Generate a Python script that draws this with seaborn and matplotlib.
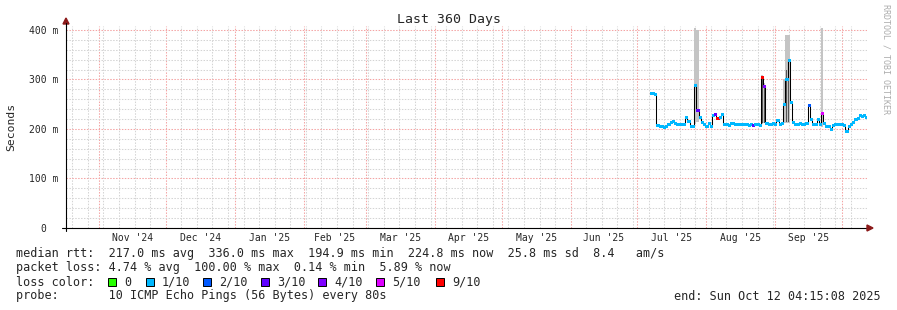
import numpy as np
import pandas as pd
import matplotlib
matplotlib.use("Agg")
import matplotlib.pyplot as plt
import matplotlib.dates as mdates
from matplotlib.ticker import MultipleLocator, FuncFormatter, NullFormatter
from matplotlib.patches import Rectangle, Polygon
from matplotlib.lines import Line2D
import seaborn as sns

# ---------------- data ----------------
first_day = "2025-07-07"
median_ms = [
    272, 272, 270,
    208, 207, 207, 205, 206,
    210, 215, 216, 213, 211, 211, 210, 211,
    225, 216, 207, 206,
    289, 238, 224, 215, 210, 207, 212, 207,
    228, 230, 222, 224, 230,
    210, 210, 209, 212, 213, 210, 210, 211, 210, 210, 210, 209, 210, 208, 210, 210, 209,
    305, 287,
    212, 211, 211, 212, 211, 218, 211, 212,
    250, 300, 340, 255, 215,
    211, 211, 212, 210, 211, 213,
    248, 220, 211, 210, 220, 211, 232,
    212, 207, 206, 200, 209,
    210, 210, 210, 210, 208, 196, 206, 210, 215, 221, 222, 228, 226, 228, 225,
]
# loss level exceptions (default level 1 = 1/10)
loss_days = ["2025-07-28", "2025-08-05", "2025-08-06", "2025-08-22",
             "2025-08-26", "2025-08-27", "2025-09-16", "2025-09-22"]
loss_levels = [3, 3, 6, 3, 6, 4, 2, 5]

# smoke (ping spread) on spike days
smoke_days = ["2025-07-27", "2025-07-28", "2025-08-26", "2025-08-27",
              "2025-09-05", "2025-09-06", "2025-09-07", "2025-09-22"]
smoke_lo = [210, 215, 210, 212, 212, 212, 212, 205]
smoke_hi = [403, 400, 310, 292, 300, 390, 390, 403]
dark_days = ["2025-08-26", "2025-08-27", "2025-09-06", "2025-09-07"]
dark_lo = [212, 212, 215, 215]
dark_hi = [300, 285, 320, 330]

loss_labels = ["0", "1/10", "2/10", "3/10", "4/10", "5/10", "9/10"]
loss_colors = ["#26ff00", "#00b8ff", "#0059ff", "#5e00ff", "#7e00ff", "#dd00ff", "#ff0000"]

month_labels_start = "2024-11-01"
y_ticks = [0, 100, 200, 300, 400]

title = "Last 360 Days"
row1 = "median rtt:  217.0 ms avg  336.0 ms max  194.9 ms min  224.8 ms now  25.8 ms sd  8.4   am/s"
row2 = "packet loss: 4.74 % avg  100.00 % max  0.14 % min  5.89 % now"
row3 = "loss color:"
row4 = "probe:       10 ICMP Echo Pings (56 Bytes) every 80s"
end_text = "end: Sun Oct 12 04:15:08 2025"

# ---------------- build ----------------
dates = pd.date_range(first_day, periods=len(median_ms), freq="D")
level = pd.Series(1, index=dates)
for d, l in zip(loss_days, loss_levels):
    level[pd.Timestamp(d)] = l
seg_colors = [loss_colors[l] for l in level.values]

sns.set_theme(style="white")
plt.rcParams["font.family"] = ["DejaVu Sans Mono", "DejaVu Sans"]

W, H = 897, 310
L, R, T, B = 66, 867, 26, 228
fig = plt.figure(figsize=(W / 100, H / 100), dpi=100)
fig.patch.set_facecolor("white")
ax = fig.add_axes([L / W, 1 - B / H, (R - L) / W, (B - T) / H])
ax.set_facecolor("white")

t_end = pd.Timestamp("2025-10-12 04:15:08")
t_start = t_end - pd.Timedelta(days=360)

half = pd.Timedelta(hours=12)
df = pd.DataFrame({"t": dates - half, "median": median_ms})

# smoke
sd = pd.to_datetime(smoke_days)
ax.bar(mdates.date2num(sd), np.array(smoke_hi) - np.array(smoke_lo), bottom=smoke_lo,
       width=1.0, color="#c4c4c4", linewidth=0, zorder=2)
dd = pd.to_datetime(dark_days)
ax.bar(mdates.date2num(dd), np.array(dark_hi) - np.array(dark_lo), bottom=dark_lo,
       width=0.6, color="#555555", linewidth=0, zorder=2.5)

# median: black step line + loss-coloured horizontal segments
sns.lineplot(data=df, x="t", y="median", drawstyle="steps-post", color="black",
             linewidth=0.75, estimator=None, ax=ax, zorder=3)
ax.hlines(median_ms, mdates.date2num(dates - half), mdates.date2num(dates + half),
          colors=seg_colors, linewidth=2.0, zorder=4, antialiased=False)

ax.set_xlim(t_start, t_end)
ax.set_ylim(0, 408)
ax.set_xlabel("")
ax.set_ylabel("")

# grid
ax.xaxis.set_major_locator(mdates.MonthLocator())
ax.xaxis.set_minor_locator(mdates.WeekdayLocator(byweekday=mdates.SU))
ax.xaxis.set_major_formatter(NullFormatter())
ax.yaxis.set_major_locator(MultipleLocator(100))
ax.yaxis.set_minor_locator(MultipleLocator(20))
ax.set_yticks(y_ticks)
ax.yaxis.set_major_formatter(FuncFormatter(lambda v, p: "0  " if v == 0 else f"{int(v)} m"))
ax.set_axisbelow(True)
ax.grid(which="minor", color="#d4d4d4", linestyle=(0, (1.4, 1.4)), linewidth=0.75)
ax.grid(which="major", color="#f4a4a4", linestyle=(0, (1.4, 1.4)), linewidth=0.75)
ax.tick_params(axis="both", which="major", length=2.5, width=0.7, color="black",
               direction="out", labelsize=7, pad=3)
ax.tick_params(axis="both", which="minor", length=1.5, width=0.7, color="black", direction="out")

for s in ["top", "right"]:
    ax.spines[s].set_visible(False)
for s in ["left", "bottom"]:
    ax.spines[s].set_color("black")
    ax.spines[s].set_linewidth(0.8)

# month labels centred mid-month
months = pd.date_range(month_labels_start, "2025-10-01", freq="MS")
for m0, m1 in zip(months[:-1], months[1:]):
    mid = m0 + (m1 - m0) / 2
    ax.text(mdates.date2num(mid), -10 / (B - T), m0.strftime("%b '%y"),
            transform=ax.get_xaxis_transform(), ha="center", va="center", fontsize=7)

def fx(x):
    return x / W
def fy(y):
    return 1 - y / H

# axis extensions and arrows
fig.add_artist(Line2D([fx(62), fx(L)], [fy(B), fy(B)], color="black", lw=0.8))
fig.add_artist(Line2D([fx(L), fx(L)], [fy(B), fy(B + 3)], color="black", lw=0.8))
fig.add_artist(Line2D([fx(L), fx(L)], [fy(T), fy(T - 3)], color="black", lw=0.8))
fig.add_artist(Polygon([[fx(L - 3), fy(T - 2)], [fx(L + 3), fy(T - 2)], [fx(L), fy(T - 8)]],
                       closed=True, color="#8b1a1a", transform=fig.transFigure))
fig.add_artist(Polygon([[fx(R), fy(B - 3)], [fx(R), fy(B + 3)], [fx(R + 6), fy(B)]],
                       closed=True, color="#8b1a1a", transform=fig.transFigure))

# titles
fig.text(fx(448.5), fy(19), title, ha="center", va="center", fontsize=9.5)
fig.text(fx(11), fy(127), "Seconds", rotation=90, ha="center", va="center", fontsize=8.2)
fig.text(fx(886), fy(4), "RRDTOOL / TOBI OETIKER", rotation=270, ha="center", va="top",
         fontsize=6, color="#acacac")

# legend rows
fs = 8.5
fig.text(fx(16), fy(257.5), row1, ha="left", va="baseline", fontsize=fs)
fig.text(fx(16), fy(271.5), row2, ha="left", va="baseline", fontsize=fs)
fig.text(fx(16), fy(285.5), row3, ha="left", va="baseline", fontsize=fs)
fig.text(fx(16), fy(299.5), row4, ha="left", va="baseline", fontsize=fs)
fig.text(fx(881), fy(299.5), end_text, ha="right", va="baseline", fontsize=fs)

box_x = [108, 146, 203, 261, 318, 376, 436]
for bx, lab, col in zip(box_x, loss_labels, loss_colors):
    fig.add_artist(Rectangle((fx(bx), fy(286)), 8 / W, 8 / H, facecolor=col,
                             edgecolor="black", linewidth=0.7, transform=fig.transFigure))
    fig.text(fx(bx + 16), fy(285.5), lab, ha="left", va="baseline", fontsize=fs)

fig.savefig("out.png", dpi=100, facecolor="white")
